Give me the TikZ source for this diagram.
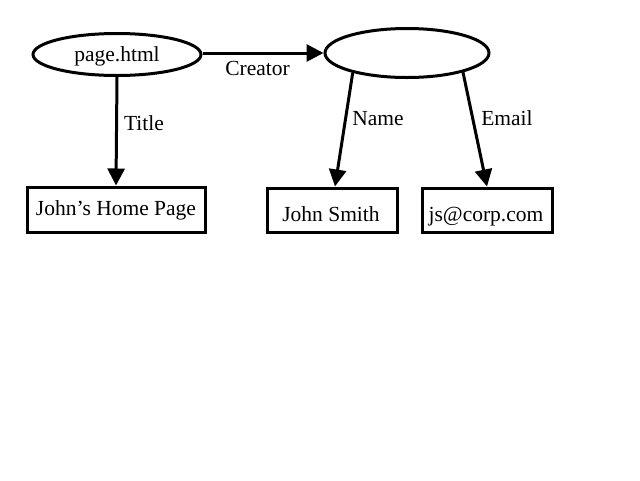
\documentclass[tikz,border=0pt]{standalone}
\usepackage{fontspec}
\setmainfont{Liberation Serif}
\usetikzlibrary{shapes.geometric,arrows.meta}
\begin{document}
\begin{tikzpicture}[x=1pt,y=-1pt,
  every node/.style={font=\fontsize{21.5}{24}\selectfont, inner sep=0pt},
  res/.style={ellipse, draw, line width=3pt},
  lit/.style={rectangle, draw, line width=3pt},
  link/.style={line width=3pt, -{Triangle[length=17pt,width=17pt]}},
  lbl/.style={anchor=base}]
\useasboundingbox[fill=white] (0,0) rectangle (640,480);
\node[res, minimum width=168pt, minimum height=42pt, text height=15pt, text depth=2pt] (e1) at (117,54.5) {page.html};
\node[res, minimum width=164pt, minimum height=49pt] (e2) at (407,53) {};
\node[lit, minimum width=178pt, minimum height=45pt, text height=15pt, text depth=4pt] (b1) at (116,209.5) {John’s Home Page};
\node[lit, minimum width=130pt, minimum height=44pt, text height=22pt, text depth=0pt] (b2) at (332,210) {John Smith\kern2pt};
\node[lit, minimum width=130pt, minimum height=44pt, text height=22pt, text depth=0pt] (b3) at (487,210) {js@corp.com\kern2pt};
\draw[link] (e1.east |- e2.west) -- (e2.west);
\draw[link] (e1.south) -- (b1.north);
\draw[link] (e2.200) -- ([xshift=3pt]b2.north);
\draw[link] (e2.-19) -- (b3.north);
\node[lbl] (lc) at (257.5,75) {Creator};
\node[lbl] (lt) at (144,130) {Title};
\node[lbl] (ln) at (378,125) {Name};
\node[lbl] (le) at (507,125) {Email};
\end{tikzpicture}
\end{document}
